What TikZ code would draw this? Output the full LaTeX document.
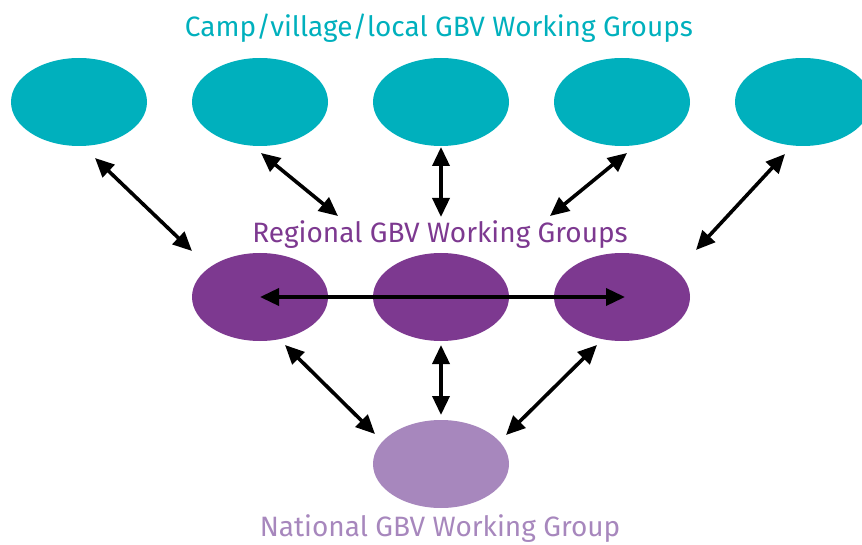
\documentclass[tikz,border=0pt]{standalone}
\usepackage{fontspec}
\setmainfont{Fira Sans}
\usetikzlibrary{shapes.geometric,arrows.meta}
\definecolor{teal1}{HTML}{00B0BD}
\definecolor{purp1}{HTML}{7D3990}
\definecolor{lpurp}{HTML}{A787BD}
\begin{document}
\begin{tikzpicture}[x=1pt,y=-1pt,
  ell/.style={ellipse,minimum width=136pt,minimum height=88pt,inner sep=0pt},
  topell/.style={ell,fill=teal1},
  midell/.style={ell,fill=purp1},
  botell/.style={ell,fill=lpurp},
  lbl/.style={font=\fontsize{28}{32}\selectfont,inner sep=0pt},
  link/.style={line width=3.6pt,{Triangle[length=19pt,width=17pt]}-{Triangle[length=19pt,width=17pt]}}]
\useasboundingbox (0,0) rectangle (862,545);
\node[topell] (t1) at (79,102) {};
\node[topell] (t2) at (260,102) {};
\node[topell] (t3) at (441,102) {};
\node[topell] (t4) at (622,102) {};
\node[topell] (t5) at (803,102) {};
\node[midell] (m1) at (260,297) {};
\node[midell] (m2) at (441,297) {};
\node[midell] (m3) at (622,297) {};
\node[botell] (b1) at (441,464) {};
\node[lbl,text=teal1] (lt) at (439,28) {Camp/village/local GBV Working Groups};
\node[lbl,text=purp1] (lm) at (440,235) {Regional GBV Working Groups};
\node[lbl,text=lpurp] (lb) at (440,529) {National GBV Working Group};
\coordinate (a1s) at (95,158); \coordinate (a1e) at (192,251);
\coordinate (a2s) at (261,153); \coordinate (a2e) at (338,216);
\coordinate (a3s) at (441,147); \coordinate (a3e) at (441,217);
\coordinate (a4s) at (627,153); \coordinate (a4e) at (550,216);
\coordinate (a5s) at (785,154); \coordinate (a5e) at (696,250);
\coordinate (hs) at (260,297); \coordinate (he) at (625,297);
\coordinate (b1s) at (285,345); \coordinate (b1e) at (375,434);
\coordinate (b2s) at (441,345); \coordinate (b2e) at (441,415);
\coordinate (b3s) at (597,345); \coordinate (b3e) at (506,435);
\draw[link] (a1s) -- (a1e);
\draw[link] (a2s) -- (a2e);
\draw[link] (a3s) -- (a3e);
\draw[link] (a4s) -- (a4e);
\draw[link] (a5s) -- (a5e);
\draw[link] (hs) -- (he);
\draw[link] (b1s) -- (b1e);
\draw[link] (b2s) -- (b2e);
\draw[link] (b3s) -- (b3e);
\end{tikzpicture}
\end{document}
